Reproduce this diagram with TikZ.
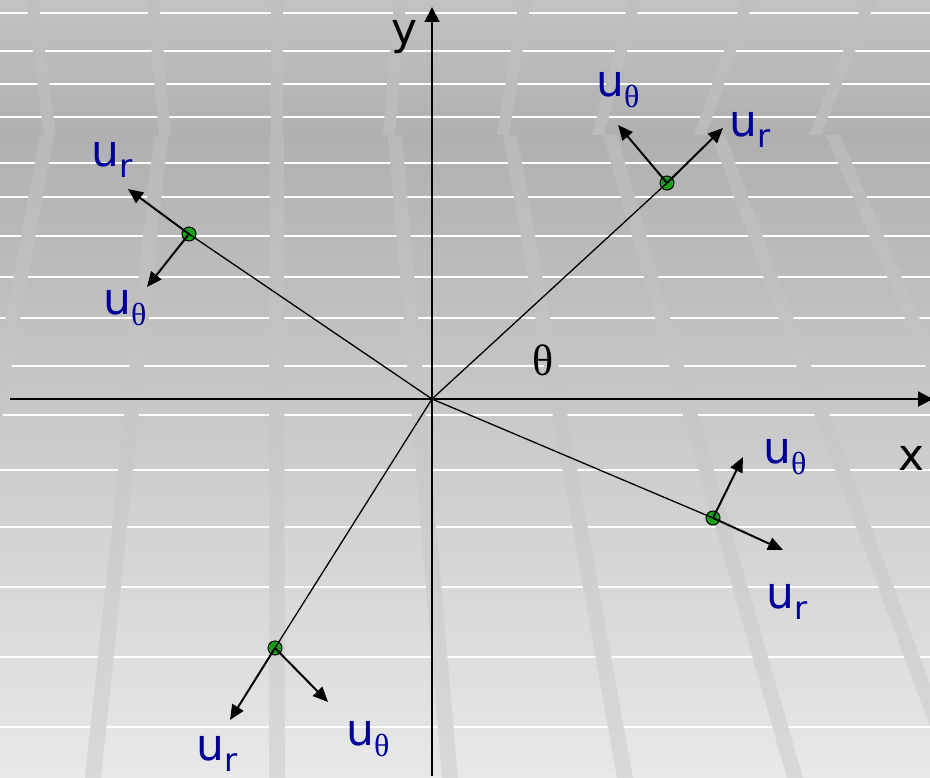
\documentclass[tikz,border=0pt]{standalone}
\usepackage{fontspec}
\setmainfont{DejaVu Sans}
\newfontfamily\thfont{Liberation Serif}
\usetikzlibrary{arrows.meta}
\definecolor{lblue}{RGB}{0,0,153}
\definecolor{dotgreen}{RGB}{24,160,24}
\newcommand{\ulab}[1]{{\fontsize{44}{44}\selectfont u}\raisebox{-11pt}{\fontsize{32}{32}\selectfont #1}}
\newcommand{\lowband}[2]{\shade[top color=gray!55!white, bottom color=gray!30!white] (#1-7,135) -- (#1+7,135) -- (#2+8,778) -- (#2-8,778) -- cycle;}
\newcommand{\upband}[2]{\shade[top color=gray!50!white, bottom color=gray!54!white] (#1-6,0) -- (#1+6,0) -- (#2+6,135) -- (#2-6,135) -- cycle;}
\begin{document}
\begin{tikzpicture}[x=1pt,y=-1pt,
  axis/.style={line width=2pt,-{Triangle[length=15pt,width=15pt]}},
  radial/.style={line width=1.3pt},
  vec/.style={line width=2pt,-{Triangle[length=15pt,width=13pt]}},
  dot/.style={circle,fill=dotgreen,draw=black,line width=1pt,minimum size=14pt,inner sep=0pt},
  lab/.style={inner sep=0pt,text=lblue,anchor=base west},
  hline/.style={white,line width=2.6pt}]
\useasboundingbox (0,0) rectangle (930,778);
% background
\shade[top color=gray!48!white, bottom color=gray!62!white] (0,0) rectangle (930,135.5);
\shade[top color=gray!62!white, bottom color=gray!18!white] (0,135) rectangle (930,778);
\foreach \yy in {13,51,84,117,163,197,236,277,318,366,415,470,527,587,657,727}
  \draw[hline] (0,\yy) -- (930,\yy);
\upband{32}{50}\upband{153}{165}\upband{277}{277}\upband{400}{389}
\upband{525}{503}\upband{635}{598}\upband{748}{700}\upband{870}{815}
\lowband{47}{-72}\lowband{161}{93}\lowband{277}{277}\lowband{395}{450}
\lowband{510}{625}\lowband{610}{795}\lowband{718}{957}\lowband{833}{1111}
% axes
\coordinate (O) at (432,399);
\coordinate (xs) at (10,399);
\coordinate (xe) at (933,399);
\coordinate (ys) at (432,776);
\coordinate (ye) at (432,7);
\draw[axis] (xs) -- (xe);
\draw[axis] (ys) -- (ye);
\node[inner sep=0pt,anchor=base west,font=\fontsize{44}{44}\selectfont] (xl) at (898,470) {x};
\node[inner sep=0pt,anchor=base west,font=\fontsize{44}{44}\selectfont] (yl) at (391,45) {y};
\node[inner sep=0pt,anchor=base,font=\thfont\fontsize{44}{44}\selectfont] (th) at (543,375) {θ};
% points
\node[dot] (P1) at (667,183) {};
\node[dot] (P2) at (189,234) {};
\node[dot] (P3) at (713,518) {};
\node[dot] (P4) at (275,648) {};
\coordinate (P1r) at (723,128);
\coordinate (P1t) at (618,125);
\coordinate (P2r) at (128,189);
\coordinate (P2t) at (147,287);
\coordinate (P3r) at (783,550);
\coordinate (P3t) at (743,457);
\coordinate (P4r) at (230,720);
\coordinate (P4t) at (328,702);
% radial lines
\draw[radial] (O) -- (P1.center);
\draw[radial] (O) -- (P2.center);
\draw[radial] (O) -- (P3.center);
\draw[radial] (O) -- (P4.center);
% unit vectors
\draw[vec] (P1.center) -- (P1r);
\draw[vec] (P1.center) -- (P1t);
\draw[vec] (P2.center) -- (P2r);
\draw[vec] (P2.center) -- (P2t);
\draw[vec] (P3.center) -- (P3r);
\draw[vec] (P3.center) -- (P3t);
\draw[vec] (P4.center) -- (P4r);
\draw[vec] (P4.center) -- (P4t);
% labels
\node[lab] (L1t) at (596,97) {\ulab{\thfont θ}};
\node[lab] (L1r) at (729,137) {\ulab{r}};
\node[lab] (L2r) at (91,167) {\ulab{r}};
\node[lab] (L2t) at (103,315) {\ulab{\thfont θ}};
\node[lab] (L3t) at (763,463) {\ulab{\thfont θ}};
\node[lab] (L3r) at (766,608) {\ulab{r}};
\node[lab] (L4r) at (196,760) {\ulab{r}};
\node[lab] (L4t) at (346,745) {\ulab{\thfont θ}};
\end{tikzpicture}
\end{document}
